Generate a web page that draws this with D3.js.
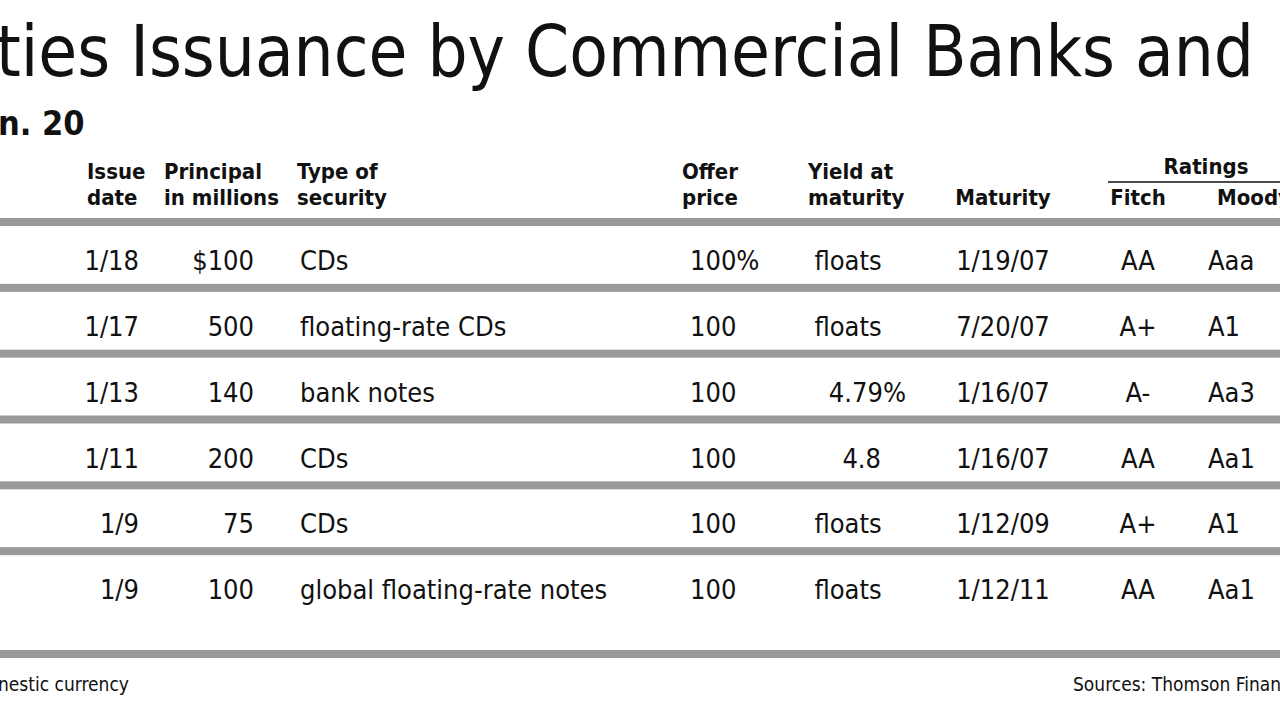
<!DOCTYPE html><html><head><meta charset="utf-8">
<script src="https://cdn.jsdelivr.net/npm/d3@7"></script>
<style>body{margin:0;background:#fff}text{font-family:"Liberation Sans Narrow","DejaVu Sans Condensed","Roboto Condensed",sans-serif;fill:#111}</style>
</head><body><svg width="1280" height="720"></svg>
<script>
const issueDates=["1/18","1/17","1/13","1/11","1/9","1/9"];
const principals=["$100","500","140","200","75","100"];
const types=["CDs","floating-rate CDs","bank notes","CDs","CDs","global floating-rate notes"];
const offers=["100%","100","100","100","100","100"];
const yields=["floats","floats","4.79%","4.8","floats","floats"];
const maturities=["1/19/07","7/20/07","1/16/07","1/16/07","1/12/09","1/12/11"];
const fitch=["AA","A+","A-","AA","A+","AA"];
const moody=["Aaa","A1","Aa3","Aa1","A1","Aa1"];
const svg=d3.select("svg");
const n=issueDates.length;
const y=d3.scaleLinear().domain([0,n]).range([222,617]);
const sep=d3.range(n).map(i=>y(i)).concat([654]);
svg.selectAll("rect.sep").data(sep).join("rect").attr("x",0).attr("width",1280).attr("y",d=>d-4).attr("height",8).attr("fill","#999");
svg.append("text").attr("x",-4).attr("y",76).attr("font-size",72).attr("textLength",1258).attr("lengthAdjust","spacingAndGlyphs").text("ties Issuance by Commercial Banks and");
svg.append("text").attr("x",-2).attr("y",135).attr("font-size",34).attr("font-weight","bold").text("n. 20");
const H=[["Issue","date",87,"start"],["Principal","in millions",164,"start"],["Type of","security",297,"start"],["Offer","price",682,"start"],["Yield at","maturity",808,"start"],["","Maturity",1003,"middle"],["","Fitch",1138,"middle"],["","Moody's",1217,"start"]];
H.forEach(h=>{const t=svg.append("text").attr("x",h[2]).attr("font-size",22).attr("font-weight","bold").attr("text-anchor",h[3]);
 t.append("tspan").attr("x",h[2]).attr("y",179).text(h[0]);t.append("tspan").attr("x",h[2]).attr("y",205).text(h[1]);});
svg.append("text").attr("x",1206).attr("y",174).attr("font-size",22).attr("font-weight","bold").attr("text-anchor","middle").text("Ratings");
svg.append("line").attr("x1",1108).attr("x2",1280).attr("y1",182).attr("y2",182).attr("stroke","#111").attr("stroke-width",1.5);
const cols=[[issueDates,139,"end"],[principals,254,"end"],[types,300,"start"],[offers,690,"start"],[maturities,1003,"middle"],[fitch,1138,"middle"],[moody,1208,"start"]];
cols.forEach(c=>svg.selectAll(null).data(c[0]).join("text").attr("x",c[1]).attr("y",(d,i)=>y(i)+48).attr("font-size",27).attr("text-anchor",c[2]).text(d=>d));
svg.selectAll(null).data(yields).join("text").attr("y",(d,i)=>y(i)+48).attr("font-size",27)
 .attr("x",d=>d==="floats"?848:(d.endsWith("%")?906:881)).attr("text-anchor",d=>d==="floats"?"middle":"end").text(d=>d);
svg.append("text").attr("x",-2).attr("y",691).attr("font-size",19).text("nestic currency");
svg.append("text").attr("x",1073).attr("y",691).attr("font-size",19).text("Sources: Thomson Financial");
</script></body></html>
